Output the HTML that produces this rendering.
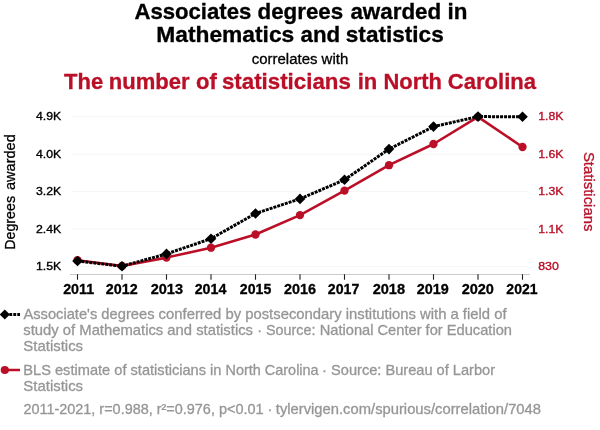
<!DOCTYPE html>
<html><head><meta charset="utf-8"><title>Spurious correlation</title>
<style>
html,body{margin:0;padding:0;background:#fff;overflow:hidden;}
svg{display:block;font-family:"Liberation Sans",Arial,Helvetica,sans-serif;}
</style></head><body>
<svg width="600" height="430" viewBox="0 0 600 430">
<rect width="600" height="430" fill="#fff"/>
<text y="19.4" font-size="21.4" font-weight="bold" fill="#000" stroke="#000" stroke-width="0.3"><tspan x="134.4" textLength="116.9" lengthAdjust="spacingAndGlyphs">Associates</tspan> <tspan x="257.5" textLength="85.7" lengthAdjust="spacingAndGlyphs">degrees</tspan> <tspan x="350.4" textLength="117.0" lengthAdjust="spacingAndGlyphs">awarded in</tspan></text>
<text y="42" font-size="21.4" font-weight="bold" fill="#000" stroke="#000" stroke-width="0.3"><tspan x="156.25" textLength="138.0" lengthAdjust="spacingAndGlyphs">Mathematics</tspan> <tspan x="300.6" textLength="39.6" lengthAdjust="spacingAndGlyphs">and</tspan> <tspan x="345.8" textLength="97.95" lengthAdjust="spacingAndGlyphs">statistics</tspan></text>
<text x="300" y="63.6" font-size="14" fill="#000" text-anchor="middle" textLength="96.5" lengthAdjust="spacingAndGlyphs" stroke="#000" stroke-width="0.3">correlates with</text>
<text y="89" font-size="21.4" font-weight="bold" fill="#ba0f27" stroke="#ba0f27" stroke-width="0.3"><tspan x="64.0" textLength="39.2" lengthAdjust="spacingAndGlyphs">The</tspan> <tspan x="108.8" textLength="80.8" lengthAdjust="spacingAndGlyphs">number</tspan> <tspan x="196.0" textLength="20.8" lengthAdjust="spacingAndGlyphs">of</tspan> <tspan x="221.9" textLength="129.0" lengthAdjust="spacingAndGlyphs">statisticians</tspan> <tspan x="357.7" textLength="19.6" lengthAdjust="spacingAndGlyphs">in</tspan> <tspan x="383.4" textLength="58.5" lengthAdjust="spacingAndGlyphs">North</tspan> <tspan x="447.8" textLength="88.2" lengthAdjust="spacingAndGlyphs">Carolina</tspan></text>
<g stroke="#f5f5f5" stroke-width="1">
<line x1="71" x2="528" y1="116.6" y2="116.6"/>
<line x1="71" x2="528" y1="154.1" y2="154.1"/>
<line x1="71" x2="528" y1="191.6" y2="191.6"/>
<line x1="71" x2="528" y1="229.1" y2="229.1"/>
<line x1="71" x2="528" y1="266.6" y2="266.6"/>
</g>
<line x1="70" x2="529.8" y1="274.5" y2="274.5" stroke="#c4c4c4" stroke-width="0.9"/>
<path stroke="#222" stroke-width="1.1" fill="none" d="M77.5 274.2V279.8M122.0 274.2V279.8M166.5 274.2V279.8M211.0 274.2V279.8M255.5 274.2V279.8M300.0 274.2V279.8M344.5 274.2V279.8M389.0 274.2V279.8M433.5 274.2V279.8M478.0 274.2V279.8M522.5 274.2V279.8"/>
<text x="36" y="120.3" font-size="11.8" fill="#000" textLength="25.2" lengthAdjust="spacingAndGlyphs" stroke="#000" stroke-width="0.36">4.9K</text>
<text x="36" y="158.3" font-size="11.8" fill="#000" textLength="25.2" lengthAdjust="spacingAndGlyphs" stroke="#000" stroke-width="0.36">4.0K</text>
<text x="36" y="195.3" font-size="11.8" fill="#000" textLength="25.2" lengthAdjust="spacingAndGlyphs" stroke="#000" stroke-width="0.36">3.2K</text>
<text x="36" y="233.3" font-size="11.8" fill="#000" textLength="25.2" lengthAdjust="spacingAndGlyphs" stroke="#000" stroke-width="0.36">2.4K</text>
<text x="36" y="270.3" font-size="11.8" fill="#000" textLength="25.2" lengthAdjust="spacingAndGlyphs" stroke="#000" stroke-width="0.36">1.5K</text>
<text x="538.2" y="120.3" font-size="11.8" fill="#ba0f27" textLength="25.2" lengthAdjust="spacingAndGlyphs" stroke="#ba0f27" stroke-width="0.36">1.8K</text>
<text x="538.2" y="158.3" font-size="11.8" fill="#ba0f27" textLength="25.2" lengthAdjust="spacingAndGlyphs" stroke="#ba0f27" stroke-width="0.36">1.6K</text>
<text x="538.2" y="195.3" font-size="11.8" fill="#ba0f27" textLength="25.2" lengthAdjust="spacingAndGlyphs" stroke="#ba0f27" stroke-width="0.36">1.3K</text>
<text x="538.2" y="233.3" font-size="11.8" fill="#ba0f27" textLength="25.2" lengthAdjust="spacingAndGlyphs" stroke="#ba0f27" stroke-width="0.36">1.1K</text>
<text x="538.2" y="270.3" font-size="11.8" fill="#ba0f27" textLength="20.6" lengthAdjust="spacingAndGlyphs" stroke="#ba0f27" stroke-width="0.36">830</text>
<text x="63.17" y="294.4" font-size="14.6" fill="#000" font-weight="bold" textLength="30.97" lengthAdjust="spacingAndGlyphs" stroke="#000" stroke-width="0.3">2011</text>
<text x="105.75" y="294.4" font-size="14.6" fill="#000" font-weight="bold" textLength="31.87" lengthAdjust="spacingAndGlyphs" stroke="#000" stroke-width="0.3">2012</text>
<text x="150.65" y="294.4" font-size="14.6" fill="#000" font-weight="bold" textLength="32.33" lengthAdjust="spacingAndGlyphs" stroke="#000" stroke-width="0.3">2013</text>
<text x="194.66" y="294.4" font-size="14.6" fill="#000" font-weight="bold" textLength="31.67" lengthAdjust="spacingAndGlyphs" stroke="#000" stroke-width="0.3">2014</text>
<text x="239.86" y="294.4" font-size="14.6" fill="#000" font-weight="bold" textLength="31.38" lengthAdjust="spacingAndGlyphs" stroke="#000" stroke-width="0.3">2015</text>
<text x="283.95" y="294.4" font-size="14.6" fill="#000" font-weight="bold" textLength="31.92" lengthAdjust="spacingAndGlyphs" stroke="#000" stroke-width="0.3">2016</text>
<text x="327.86" y="294.4" font-size="14.6" fill="#000" font-weight="bold" textLength="31.51" lengthAdjust="spacingAndGlyphs" stroke="#000" stroke-width="0.3">2017</text>
<text x="372.64" y="294.4" font-size="14.6" fill="#000" font-weight="bold" textLength="32.45" lengthAdjust="spacingAndGlyphs" stroke="#000" stroke-width="0.3">2018</text>
<text x="416.65" y="294.4" font-size="14.6" fill="#000" font-weight="bold" textLength="32.03" lengthAdjust="spacingAndGlyphs" stroke="#000" stroke-width="0.3">2019</text>
<text x="461.65" y="294.4" font-size="14.6" fill="#000" font-weight="bold" textLength="32.3" lengthAdjust="spacingAndGlyphs" stroke="#000" stroke-width="0.3">2020</text>
<text x="506.36" y="294.4" font-size="14.6" fill="#000" font-weight="bold" textLength="31.18" lengthAdjust="spacingAndGlyphs" stroke="#000" stroke-width="0.3">2021</text>
<text transform="translate(15.3,0) rotate(-90)" font-size="15.4" fill="#000" stroke="#000" stroke-width="0.3"><tspan x="-249.8" textLength="53.9" lengthAdjust="spacingAndGlyphs">Degrees</tspan> <tspan x="-190.1" textLength="55.9" lengthAdjust="spacingAndGlyphs">awarded</tspan></text>
<text transform="translate(583.9,191.7) rotate(90)" stroke="#ba0f27" stroke-width="0.3" font-size="15.2" text-anchor="middle" fill="#ba0f27" textLength="79.6" lengthAdjust="spacingAndGlyphs">Statisticians</text>
<polyline fill="none" stroke="#ba0f27" stroke-width="2.6" stroke-linejoin="round" points="77.5,260.2 122.0,266.0 166.5,257.6 211.0,247.7 255.5,234.5 300.0,215.1 344.5,190.6 389.0,165.2 433.5,144 478.0,116.9 522.5,147"/>
<g fill="#ba0f27"><circle cx="77.5" cy="260.2" r="4.15"/><circle cx="122.0" cy="266.0" r="4.15"/><circle cx="166.5" cy="257.6" r="4.15"/><circle cx="211.0" cy="247.7" r="4.15"/><circle cx="255.5" cy="234.5" r="4.15"/><circle cx="300.0" cy="215.1" r="4.15"/><circle cx="344.5" cy="190.6" r="4.15"/><circle cx="389.0" cy="165.2" r="4.15"/><circle cx="433.5" cy="144" r="4.15"/><circle cx="478.0" cy="116.9" r="4.15"/><circle cx="522.5" cy="147" r="4.15"/></g>
<polyline fill="none" stroke="#000" stroke-width="3" stroke-dasharray="3 1" points="77.5,261.0 122.0,266.2 166.5,253.9 211.0,238.7 255.5,213.5 300.0,198.9 344.5,179.8 389.0,149.1 433.5,126.6 478.0,116.6 522.5,116.7"/>
<g fill="#000"><path d="M77.5 255.7l5.3 5.3l-5.3 5.3l-5.3-5.3z"/><path d="M122.0 260.9l5.3 5.3l-5.3 5.3l-5.3-5.3z"/><path d="M166.5 248.6l5.3 5.3l-5.3 5.3l-5.3-5.3z"/><path d="M211.0 233.4l5.3 5.3l-5.3 5.3l-5.3-5.3z"/><path d="M255.5 208.2l5.3 5.3l-5.3 5.3l-5.3-5.3z"/><path d="M300.0 193.6l5.3 5.3l-5.3 5.3l-5.3-5.3z"/><path d="M344.5 174.5l5.3 5.3l-5.3 5.3l-5.3-5.3z"/><path d="M389.0 143.8l5.3 5.3l-5.3 5.3l-5.3-5.3z"/><path d="M433.5 121.3l5.3 5.3l-5.3 5.3l-5.3-5.3z"/><path d="M478.0 111.3l5.3 5.3l-5.3 5.3l-5.3-5.3z"/><path d="M522.5 111.4l5.3 5.3l-5.3 5.3l-5.3-5.3z"/></g>
<line x1="5" x2="20" y1="314.5" y2="314.5" stroke="#000" stroke-width="3" stroke-dasharray="2.9 1.1" stroke-dashoffset="-0.3"/>
<path d="M4.8 309.5l5 5l-5 5l-5-5z" fill="#000"/>
<line x1="4" x2="20" y1="370" y2="370" stroke="#ba0f27" stroke-width="2.5"/>
<circle cx="4.8" cy="370" r="4.1" fill="#ba0f27"/>
<g font-size="14.5" fill="#969696" stroke="#969696" stroke-width="0.3">
<text y="318.6"><tspan x="23.4" textLength="131.1" lengthAdjust="spacingAndGlyphs">Associate's degrees</tspan> <tspan x="158.6" textLength="348" lengthAdjust="spacingAndGlyphs">conferred by postsecondary institutions with a field of</tspan></text>
<text y="334.5"><tspan x="23.3" textLength="229.7" lengthAdjust="spacingAndGlyphs">study of Mathematics and statistics</tspan> <tspan x="257.2" textLength="58.3" lengthAdjust="spacingAndGlyphs">· Source:</tspan> <tspan x="319.7" textLength="192.3" lengthAdjust="spacingAndGlyphs">National Center for Education</tspan></text>
<text y="350.5"><tspan x="23.3" textLength="59.8" lengthAdjust="spacingAndGlyphs">Statistics</tspan></text>
<text y="374.5"><tspan x="23.3" textLength="198.2" lengthAdjust="spacingAndGlyphs">BLS estimate of statisticians in</tspan> <tspan x="225.6" textLength="93.0" lengthAdjust="spacingAndGlyphs">North Carolina</tspan> <tspan x="322.1" textLength="173.0" lengthAdjust="spacingAndGlyphs">· Source: Bureau of Larbor</tspan></text>
<text y="390.5"><tspan x="23.3" textLength="59.8" lengthAdjust="spacingAndGlyphs">Statistics</tspan></text>
<text y="413.6"><tspan x="23.4" textLength="248.9" lengthAdjust="spacingAndGlyphs">2011-2021, r=0.988, r²=0.976, p&lt;0.01 ·</tspan> <tspan x="275.8" textLength="265.2" lengthAdjust="spacingAndGlyphs">tylervigen.com/spurious/correlation/7048</tspan></text>
</g>
</svg>
</body></html>
